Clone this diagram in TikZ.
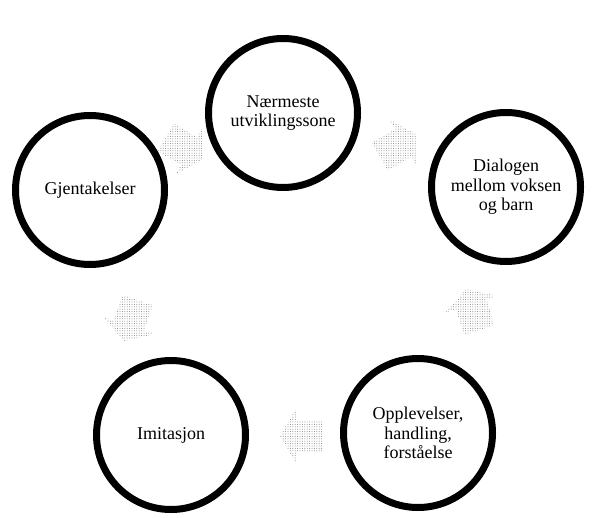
\documentclass[tikz,border=0pt]{standalone}
\usepackage{fontspec}
\setmainfont{Liberation Serif}
\usetikzlibrary{patterns.meta}
\tikzset{
  stage/.style={circle, draw=black, line width=7pt, minimum size=149pt, inner sep=0pt,
    align=center, font=\fontsize{18}{19.5}\selectfont},
  cyclearrow/.style={pattern={Dots[distance=2.4pt,radius=0.5pt]}, pattern color=black!50, draw=none}
}
\newcommand{\cycarrow}[3]{%
  \path[cyclearrow, shift={(#1,#2)}, rotate=#3]
    (-21,-16) -- (6,-16) -- (6,-27) -- (22,0) -- (6,27) -- (6,16) -- (-21,16) -- cycle;}
\begin{document}
\begin{tikzpicture}[x=1pt, y=-1pt]
  \useasboundingbox (0,0) rectangle (593,518);
  \node[stage] (top) at (283,113) {Nærmeste\\utviklingssone};
  \node[stage] (right) at (506,187) {Dialogen\\mellom voksen\\og barn};
  \node[stage] (br) at (418,433) {Opplevelser,\\handling,\\forståelse};
  \node[stage] (bl) at (171,435) {Imitasjon};
  \node[stage] (left) at (90,190) {Gjentakelser};
  \cycarrow{184}{148}{-30}
  \cycarrow{398}{146}{30}
  \cycarrow{473}{310}{108}
  \cycarrow{302}{436}{180}
  \cycarrow{131}{320}{252}
\end{tikzpicture}
\end{document}
